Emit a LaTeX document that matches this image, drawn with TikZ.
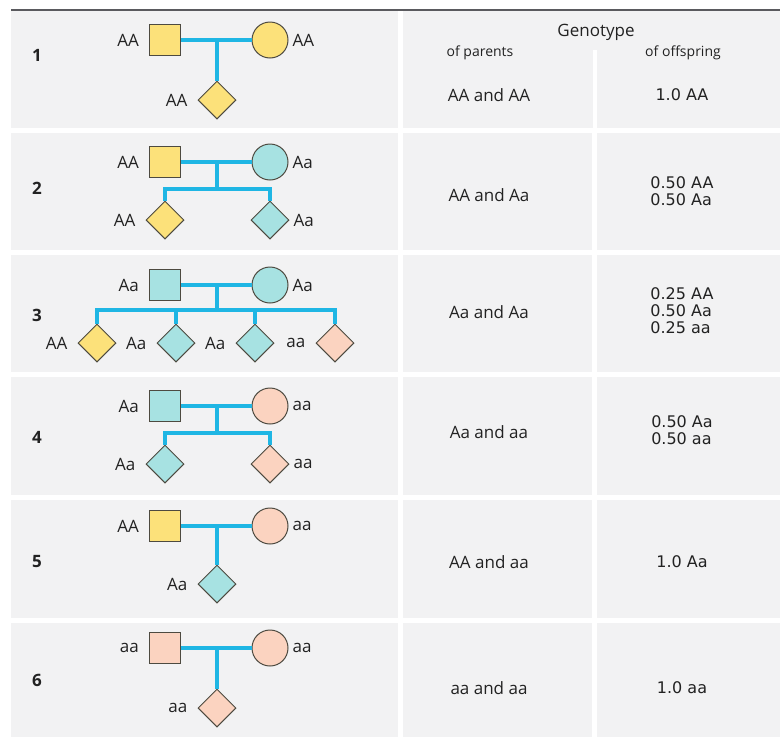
\documentclass[tikz,border=0pt]{standalone}
\usepackage{fontspec}
\setmainfont{Open Sans}
\newfontfamily\ofsfont{DejaVu Sans}
\usetikzlibrary{shapes.geometric}

\definecolor{cellgray}{HTML}{F2F2F3}
\definecolor{rulegray}{HTML}{5A5A5E}
\definecolor{edgebrown}{HTML}{4D4A40}
\definecolor{textgray}{HTML}{222222}
\definecolor{yelfill}{HTML}{FCE17A}
\definecolor{tealfill}{HTML}{A7E2E2}
\definecolor{salmonfill}{HTML}{FBD3C0}
\definecolor{linecyan}{HTML}{1FB6E4}

\tikzset{
  cell/.style={fill=cellgray},
  person/.style={draw=edgebrown, line width=1pt, inner sep=0pt},
  male/.style={person, rectangle, minimum size=31pt},
  female/.style={person, circle, minimum size=36pt},
  child/.style={person, diamond, minimum width=38pt, minimum height=38pt},
  gAA/.style={fill=yelfill},
  gAa/.style={fill=tealfill},
  gaa/.style={fill=salmonfill},
  gt/.style={font=\fontsize{17}{19}\selectfont, text=textgray, inner sep=0pt},
  lgt/.style={label={[gt, label distance=10pt]left:#1}},
  rgt/.style={label={[gt, label distance=4pt]right:#1}},
  num/.style={gt, font=\fontsize{17}{19}\selectfont\bfseries},
  head/.style={gt, font=\fontsize{14}{16}\selectfont},
  ofs/.style={gt, font=\fontsize{16}{17}\selectfont\ofsfont, align=left},
  line/.style={draw=linecyan, line width=3.5pt}
}

\begin{document}
\begin{tikzpicture}[x=1pt, y=-1pt]
\useasboundingbox (0, 0) rectangle (780, 737);

\fill[cell] (11, 11) rectangle (398, 128);
\fill[cell] (403, 11) rectangle (780, 128);
\draw[white, line width=4pt] (594.5, 50) -- (594.5, 128);
\fill[cell] (11, 133) rectangle (398, 250);
\fill[cell] (403, 133) rectangle (592, 250);
\fill[cell] (597, 133) rectangle (780, 250);
\fill[cell] (11, 255) rectangle (398, 372);
\fill[cell] (403, 255) rectangle (592, 372);
\fill[cell] (597, 255) rectangle (780, 372);
\fill[cell] (11, 377) rectangle (398, 495);
\fill[cell] (403, 377) rectangle (592, 495);
\fill[cell] (597, 377) rectangle (780, 495);
\fill[cell] (11, 500) rectangle (398, 618);
\fill[cell] (403, 500) rectangle (592, 618);
\fill[cell] (597, 500) rectangle (780, 618);
\fill[cell] (11, 623) rectangle (398, 737);
\fill[cell] (403, 623) rectangle (592, 737);
\fill[cell] (597, 623) rectangle (780, 737);
\draw[rulegray, line width=1.5pt] (11, 10) -- (780, 10);

\node[gt] (genotype) at (596, 32) {Genotype};
\node[head] (parents) at (480, 53) {of parents};
\node[head] (offspring) at (683, 53) {of offspring};

% 1: AA x AA
\node[num] (n1) at (37, 55) {1};
\draw (165, 40) node[male, gAA, lgt=AA] (m1){};
\draw (270, 40) node[female, gAA, rgt=AA] (f1){};
\draw (217, 100) node[child, gAA, lgt=AA] (c1){};
\draw[line] (m1) -- (f1);
\draw[line] (c1.north) -- (c1.north |- m1);
\node[gt] (p1) at (489, 95) {AA and AA};
\node[ofs] (o1) at (682, 95) {1.0 AA};

% 2: AA x Aa
\node[num] (n2) at (37, 188) {2};
\draw (165, 162) node[male, gAA, lgt=AA] (m2){};
\draw (270, 162) node[female, gAa, rgt=Aa] (f2){};
\draw (165, 220) node[child, gAA, lgt=AA] (c2a){};
\draw (270, 220) node[child, gAa, rgt=Aa] (c2b){};
\coordinate (s2) at (217, 189);
\draw[line] (m2) -- (f2);
\draw[line] (s2 |- m2) -- (s2);
\draw[line] (c2a.north) |- (s2) -| (c2b.north);
\node[gt] (p2) at (489, 195) {AA and Aa};
\node[ofs] (o2) at (682, 191) {0.50 AA\\0.50 Aa};

% 3: Aa x Aa
\node[num] (n3) at (37, 315) {3};
\draw (165, 285) node[male, gAa, lgt=Aa] (m3){};
\draw (270, 285) node[female, gAa, rgt=Aa] (f3){};
\draw (97, 343) node[child, gAA, lgt=AA] (c3a){};
\draw (176, 343) node[child, gAa, lgt=Aa] (c3b){};
\draw (255, 343) node[child, gAa, lgt=Aa] (c3c){};
\draw (335, 343) node[child, gaa, lgt=aa] (c3d){};
\coordinate (s3) at (217, 310);
\draw[line] (m3) -- (f3);
\draw[line] (s3 |- m3) -- (s3);
\draw[line] (c3a.north) |- (s3) -| (c3d.north);
\draw[line] (c3b.north) -- (c3b.north |- s3);
\draw[line] (c3c.north) -- (c3c.north |- s3);
\node[gt] (p3) at (489, 312) {Aa and Aa};
\node[ofs] (o3) at (682, 311) {0.25 AA\\0.50 Aa\\0.25 aa};

% 4: Aa x aa
\node[num] (n4) at (37, 437) {4};
\draw (165, 406) node[male, gAa, lgt=Aa] (m4){};
\draw (270, 406) node[female, gaa, rgt=aa] (f4){};
\draw (165, 464) node[child, gAa, lgt=Aa] (c4a){};
\draw (270, 464) node[child, gaa, rgt=aa] (c4b){};
\coordinate (s4) at (217, 433);
\draw[line] (m4) -- (f4);
\draw[line] (s4 |- m4) -- (s4);
\draw[line] (c4a.north) |- (s4) -| (c4b.north);
\node[gt] (p4) at (489, 432) {Aa and aa};
\node[ofs] (o4) at (682, 430) {0.50 Aa\\0.50 aa};

% 5: AA x aa
\node[num] (n5) at (37, 562) {5};
\draw (165, 526) node[male, gAA, lgt=AA] (m5){};
\draw (270, 526) node[female, gaa, rgt=aa] (f5){};
\draw (217, 584) node[child, gAa, lgt=Aa] (c5){};
\draw[line] (m5) -- (f5);
\draw[line] (c5.north) -- (c5.north |- m5);
\node[gt] (p5) at (489, 562) {AA and aa};
\node[ofs] (o5) at (682, 562) {1.0 Aa};

% 6: aa x aa
\node[num] (n6) at (37, 680) {6};
\draw (165, 648) node[male, gaa, lgt=aa] (m6){};
\draw (270, 648) node[female, gaa, rgt=aa] (f6){};
\draw (217, 708) node[child, gaa, lgt=aa] (c6){};
\draw[line] (m6) -- (f6);
\draw[line] (c6.north) -- (c6.north |- m6);
\node[gt] (p6) at (489, 688) {aa and aa};
\node[ofs] (o6) at (682, 688) {1.0 aa};
\end{tikzpicture}
\end{document}
